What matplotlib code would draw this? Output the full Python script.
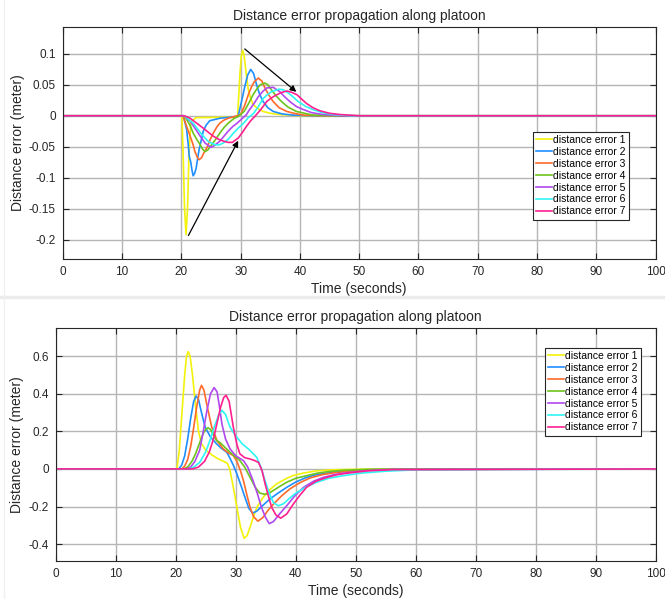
import matplotlib
matplotlib.use("Agg")
import matplotlib.pyplot as plt
from matplotlib.lines import Line2D

plt.rcParams['font.family'] = ['Liberation Sans', 'DejaVu Sans']

labels = ["distance error 1", "distance error 2", "distance error 3", "distance error 4",
          "distance error 5", "distance error 6", "distance error 7"]
colors = ["#f2f20a", "#1f8fff", "#ff6a2a", "#6cc41c", "#b048f0", "#2ef5f5", "#ff1f8f"]

# ---- top chart: distance error ----
top_t1 = [0, 20.1, 20.3, 20.55, 20.8, 21.05, 21.3, 21.6, 22.5, 29.3, 29.5, 29.7, 29.9, 30.1, 30.35,
          30.6, 30.8, 31.05, 31.3, 31.7, 32.1, 33.0, 33.8, 35.0, 36.6, 40, 100]
top_e1 = [0, 0, -0.06, -0.15, -0.192, -0.15, -0.06, -0.01, -0.003, -0.002, 0.0, 0.035, 0.069, 0.095, 0.106,
          0.097, 0.08, 0.06, 0.042, 0.028, 0.018, 0.011, 0.007, 0.004, 0.002, 0, 0]
top_t2 = [0, 20.3, 20.6, 20.9, 21.15, 21.35, 21.6, 21.8, 22.0, 22.25, 22.5, 22.8, 23.0, 23.4, 23.7, 24.2,
          24.8, 26.5, 29.5, 29.7, 30.2, 30.7, 31.2, 31.7, 32.2, 32.7, 33.2, 33.8, 34.6, 35.5, 37, 38.9, 42, 100]
top_e2 = [0, 0, -0.01, -0.022, -0.045, -0.066, -0.075, -0.088, -0.097, -0.093, -0.085, -0.066, -0.055, -0.038,
          -0.025, -0.015, -0.008, -0.004, -0.001, 0.004, 0.025, 0.047, 0.066, 0.075, 0.068, 0.05, 0.035, 0.023,
          0.013, 0.007, 0.003, 0.001, 0, 0]
top_t3 = [0, 20.3, 20.6, 21.0, 21.5, 22.0, 22.3, 22.7, 23.0, 23.4, 23.8, 24.3, 24.8, 25.4, 26.0, 26.5, 27.2,
          27.9, 29.4, 30.0, 30.7, 31.3, 31.8, 32.3, 33.0, 33.6, 34.1, 34.8, 35.5, 36.5, 37.8, 39.0, 40.6, 44, 100]
top_e3 = [0, 0, -0.009, -0.02, -0.033, -0.047, -0.058, -0.067, -0.071, -0.068, -0.060, -0.052, -0.040, -0.028,
          -0.018, -0.012, -0.007, -0.004, 0.0, 0.002, 0.017, 0.034, 0.046, 0.055, 0.061, 0.056, 0.045, 0.033,
          0.023, 0.013, 0.007, 0.004, 0.001, 0, 0]
top_t4 = [0, 20.4, 20.9, 21.5, 22.0, 22.6, 23.2, 23.6, 24.0, 24.5, 25.1, 25.8, 26.5, 27.2, 27.9, 28.8, 29.6,
          30.6, 31.3, 32.1, 32.7, 33.3, 34.1, 34.6, 35.2, 36.0, 36.9, 38.0, 39.4, 42.2, 46, 100]
top_e4 = [0, 0, -0.006, -0.016, -0.028, -0.038, -0.047, -0.054, -0.058, -0.055, -0.047, -0.038, -0.028, -0.019,
          -0.012, -0.005, -0.001, 0.007, 0.019, 0.034, 0.043, 0.05, 0.053, 0.05, 0.042, 0.032, 0.023, 0.014,
          0.007, 0.001, 0, 0]
top_t5 = [0, 20.5, 21.5, 22.3, 23.2, 24.0, 25.0, 25.6, 26.5, 27.2, 27.9, 28.6, 29.4, 30.2, 31.0, 31.3, 32.2,
          33.0, 33.7, 34.4, 35.5, 36.6, 37.4, 38.3, 39.4, 40.6, 42, 43.9, 47, 100]
top_e5 = [0, 0, -0.009, -0.02, -0.033, -0.044, -0.051, -0.048, -0.041, -0.033, -0.025, -0.018, -0.012, -0.005,
          0.002, 0.007, 0.019, 0.031, 0.039, 0.045, 0.046, 0.039, 0.031, 0.023, 0.015, 0.01, 0.005, 0.002, 0, 0]
top_t6 = [0, 20.5, 22.0, 22.8, 23.7, 24.6, 25.7, 26.4, 27.1, 28.0, 28.8, 29.6, 30.5, 31.3, 32.2, 33.0, 33.8,
          34.5, 35.2, 36.5, 37.2, 38.0, 38.8, 39.7, 41.0, 42.2, 43.8, 45.6, 49, 100]
top_e6 = [0, 0, -0.012, -0.022, -0.033, -0.042, -0.047, -0.047, -0.044, -0.037, -0.028, -0.02, -0.012, -0.003,
          0.004, 0.015, 0.028, 0.034, 0.039, 0.043, 0.042, 0.037, 0.031, 0.023, 0.015, 0.01, 0.005, 0.002, 0, 0]
top_t7 = [0, 20.5, 21.5, 22.6, 23.7, 24.6, 25.4, 26.3, 27.1, 27.9, 28.6, 29.6, 30.3, 31.0, 31.7, 32.4, 33.4,
          34.4, 35.2, 36.1, 37.0, 37.8, 38.6, 39.5, 40.3, 41.1, 42.2, 43.4, 45.0, 46.8, 50, 100]
top_e7 = [0, 0, -0.004, -0.012, -0.02, -0.027, -0.033, -0.038, -0.041, -0.043, -0.043, -0.036, -0.027, -0.017,
          -0.008, -0.001, 0.01, 0.023, 0.029, 0.034, 0.038, 0.04, 0.038, 0.034, 0.027, 0.02, 0.013, 0.008,
          0.004, 0.002, 0, 0]

# ---- bottom chart ----
bot_t1 = [0, 20.2, 20.6, 21.0, 21.5, 21.8, 22.1, 22.4, 22.8, 23.3, 23.8, 24.3, 25.0, 26.0, 27.0, 28.0, 28.6,
          29.0, 29.4, 29.9, 30.3, 30.8, 31.4, 31.9, 32.5, 32.9, 33.6, 34.6, 35.7, 36.8, 38.5, 39.6, 41.3, 43.5,
          46, 48.5, 52, 100]
bot_e1 = [0, 0, 0.1, 0.28, 0.5, 0.6, 0.624, 0.6, 0.5, 0.34, 0.2, 0.134, 0.1, 0.075, 0.055, 0.04, 0.03, 0.0,
          -0.063, -0.15, -0.223, -0.31, -0.369, -0.355, -0.3, -0.259, -0.2, -0.15, -0.11, -0.08, -0.05, -0.035,
          -0.022, -0.01, -0.005, -0.003, -0.001, 0]
bot_t2 = [0, 20.5, 21.0, 21.5, 22.0, 22.5, 23.0, 23.4, 23.8, 24.3, 24.9, 25.8, 26.8, 27.6, 28.5, 29.0, 29.6,
          30.2, 30.9, 31.55, 32.2, 32.8, 33.5, 34.5, 35.7, 37.0, 38.5, 40.0, 41.8, 43.5, 45.7, 48, 52, 56, 100]
bot_e2 = [0, 0, 0.02, 0.07, 0.16, 0.27, 0.36, 0.388, 0.37, 0.3, 0.223, 0.17, 0.134, 0.11, 0.089, 0.06, 0.02,
          -0.027, -0.09, -0.152, -0.21, -0.235, -0.225, -0.195, -0.16, -0.13, -0.098, -0.07, -0.045, -0.03,
          -0.02, -0.012, -0.005, -0.002, 0]
bot_t3 = [0, 21.0, 21.5, 22.0, 22.5, 23.0, 23.5, 24.0, 24.3, 24.7, 25.2, 26.0, 26.9, 27.9, 28.8, 29.6, 30.2,
          30.8, 31.3, 31.8, 32.4, 33.0, 33.7, 34.5, 35.4, 36.3, 37.6, 39.0, 40.6, 42.4, 44.5, 46.5, 50, 55, 100]
bot_e3 = [0, 0, 0.015, 0.05, 0.12, 0.22, 0.33, 0.42, 0.445, 0.42, 0.34, 0.223, 0.15, 0.107, 0.085, 0.071, 0.04,
          -0.01, -0.063, -0.13, -0.205, -0.255, -0.278, -0.26, -0.22, -0.187, -0.145, -0.107, -0.075, -0.048,
          -0.03, -0.02, -0.009, -0.003, 0]
bot_t4 = [0, 21.3, 22.0, 22.7, 23.3, 24.0, 24.6, 25.0, 25.4, 25.8, 26.3, 26.8, 27.4, 28.2, 29.05, 29.9, 30.7,
          31.5, 32.4, 33.2, 34.0, 34.8, 35.5, 36.5, 37.5, 38.5, 40.0, 41.8, 43.7, 45.7, 48, 52, 100]
bot_e4 = [0, 0, 0.01, 0.04, 0.08, 0.14, 0.19, 0.21, 0.219, 0.21, 0.18, 0.151, 0.14, 0.115, 0.089, 0.065, 0.044,
          0.01, -0.045, -0.095, -0.128, -0.135, -0.13, -0.11, -0.09, -0.071, -0.05, -0.036, -0.022, -0.013,
          -0.007, -0.002, 0]
bot_t5 = [0, 21.8, 22.5, 23.2, 24.0, 24.6, 25.2, 25.8, 26.4, 26.9, 27.3, 27.7, 28.3, 29.05, 30.0, 31.3, 32.0,
          32.9, 33.6, 34.3, 35.0, 35.6, 36.3, 37.3, 38.5, 39.8, 41.3, 43.0, 44.6, 46.5, 48.5, 52, 56, 100]
bot_e5 = [0, 0, 0.01, 0.04, 0.1, 0.2, 0.31, 0.4, 0.433, 0.41, 0.33, 0.24, 0.16, 0.107, 0.07, 0.044, 0.01,
          -0.063, -0.13, -0.205, -0.26, -0.291, -0.28, -0.24, -0.196, -0.145, -0.098, -0.065, -0.045, -0.03,
          -0.02, -0.009, -0.003, 0]
bot_t6 = [0, 22.3, 23.0, 24.0, 25.0, 25.8, 26.5, 27.2, 27.7, 28.3, 29.05, 29.7, 30.4, 31.2, 32.1, 32.8, 33.5,
          34.2, 34.9, 35.6, 36.3, 37.1, 38.0, 39.0, 40.2, 41.8, 43.5, 45.5, 47.9, 51, 55, 60, 100]
bot_e6 = [0, 0, 0.01, 0.035, 0.09, 0.16, 0.23, 0.29, 0.312, 0.29, 0.223, 0.19, 0.16, 0.13, 0.107, 0.085, 0.062,
          0.01, -0.063, -0.13, -0.18, -0.196, -0.185, -0.155, -0.125, -0.095, -0.071, -0.05, -0.036, -0.022,
          -0.012, -0.005, 0]
bot_t7 = [0, 22.8, 23.8, 24.8, 25.6, 26.3, 27.0, 27.5, 28.0, 28.4, 28.9, 29.6, 30.2, 30.7, 31.5, 32.4, 33.1,
          33.8, 34.4, 34.9, 35.5, 36.0, 36.7, 37.5, 38.5, 39.6, 40.7, 41.8, 43.4, 45.2, 47, 48.5, 52, 56, 100]
bot_e7 = [0, 0, 0.01, 0.04, 0.09, 0.16, 0.26, 0.33, 0.38, 0.392, 0.36, 0.223, 0.13, 0.08, 0.06, 0.053, 0.045,
          0.035, -0.01, -0.08, -0.15, -0.205, -0.245, -0.262, -0.24, -0.187, -0.14, -0.098, -0.065, -0.045,
          -0.03, -0.023, -0.01, -0.004, 0]

top_series = [(top_t1, top_e1), (top_t2, top_e2), (top_t3, top_e3), (top_t4, top_e4),
              (top_t5, top_e5), (top_t6, top_e6), (top_t7, top_e7)]
bot_series = [(bot_t1, bot_e1), (bot_t2, bot_e2), (bot_t3, bot_e3), (bot_t4, bot_e4),
              (bot_t5, bot_e5), (bot_t6, bot_e6), (bot_t7, bot_e7)]

top_yticks = [-0.2, -0.15, -0.1, -0.05, 0, 0.05, 0.1]
top_yticklabels = ["-0.2", "-0.15", "-0.1", "-0.05", "0", "0.05", "0.1"]
bot_yticks = [-0.4, -0.2, 0, 0.2, 0.4, 0.6]
bot_yticklabels = ["-0.4", "-0.2", "0", "0.2", "0.4", "0.6"]
xticks = list(range(0, 101, 10))

W, H = 665, 599
fig = plt.figure(figsize=(W / 100, H / 100), dpi=100)

# faint borders of the two stacked screenshots
fig.add_artist(Line2D([0, 1], [1 - 297 / H, 1 - 297 / H], color="#ececec", lw=2.5))
fig.add_artist(Line2D([4 / W, 4 / W], [0, 1], color="#f0f0f0", lw=1.0))

ax1 = fig.add_axes([62.7 / W, 1 - 259 / H, 593 / W, 232 / H])
ax2 = fig.add_axes([55.7 / W, 1 - 561 / H, 600 / W, 233 / H])


def style(ax, yticks, yticklabels, ylim):
    ax.set_xlim(0, 100)
    ax.set_ylim(*ylim)
    ax.set_xticks(xticks)
    ax.set_yticks(yticks)
    ax.set_yticklabels(yticklabels)
    ax.grid(True, color="#b5b5b5", lw=1.0)
    ax.set_axisbelow(True)
    ax.tick_params(direction="in", length=4, width=0.8, top=True, right=True,
                   labelsize=8.5, colors="#262626", pad=5)
    for s in ax.spines.values():
        s.set_color("#262626")
        s.set_linewidth(0.8)
    ax.set_xlabel("Time (seconds)", fontsize=10, color="#262626", labelpad=3)
    ax.set_ylabel("Distance error (meter)", fontsize=10, color="#262626", labelpad=3)
    ax.set_title("Distance error propagation along platoon", fontsize=10, color="#262626", pad=5)


for (t, e), c, lab in zip(top_series, colors, labels):
    ax1.plot(t, e, color=c, lw=1.2, label=lab)
style(ax1, top_yticks, top_yticklabels, (-0.2315, 0.1435))
ax1.annotate("", xy=(39.4, 0.0387), xytext=(30.7, 0.108),
             arrowprops=dict(arrowstyle="-|>", color="black", lw=0.9, mutation_scale=9,
                             shrinkA=0, shrinkB=0))
ax1.annotate("", xy=(29.6, -0.0403), xytext=(21.2, -0.1935),
             arrowprops=dict(arrowstyle="-|>", color="black", lw=0.9, mutation_scale=9,
                             shrinkA=0, shrinkB=0))

for (t, e), c, lab in zip(bot_series, colors, labels):
    ax2.plot(t, e, color=c, lw=1.2, label=lab)
style(ax2, bot_yticks, bot_yticklabels, (-0.49, 0.75))

for ax, (lx, ly) in ((ax1, (533, 132)), (ax2, (545, 348))):
    leg = ax.legend(loc="upper left", bbox_to_anchor=(lx / W, 1 - ly / H), bbox_transform=fig.transFigure,
                    fontsize=7.5, frameon=True, fancybox=False, framealpha=1, edgecolor="#262626",
                    borderaxespad=0, borderpad=0.3, labelspacing=0.18, handlelength=1.5,
                    handletextpad=0.15)
    leg.get_frame().set_linewidth(0.8)

fig.savefig("out.png", dpi=100)
